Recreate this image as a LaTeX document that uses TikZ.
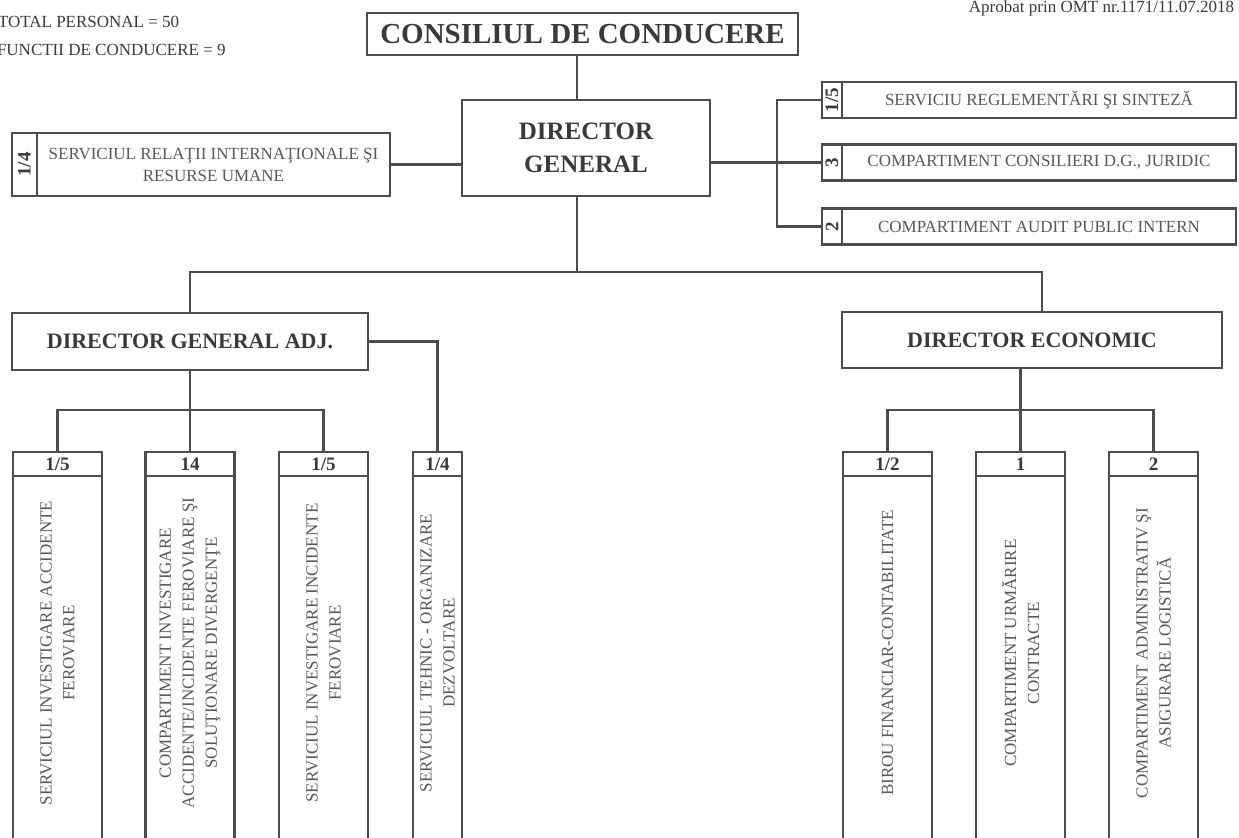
\documentclass[tikz,border=0pt]{standalone}
\usepackage{fontspec}
\usepackage{graphicx}
\setmainfont{Liberation Serif}
\definecolor{linec}{HTML}{4D4D4D}
\definecolor{textc}{HTML}{3A3A3A}
\definecolor{lightc}{HTML}{585858}
\begin{document}
\begin{tikzpicture}[x=0.5pt,y=-0.5pt,
  every node/.style={inner sep=0pt, outer sep=0pt},
  ln/.style={draw=linec, line width=1.1pt},
  box/.style={draw=linec, line width=1.1pt, fill=white, align=center},
  bigf/.style={text=textc, font=\bfseries\fontsize{14.5}{17}\selectfont},
  dgf/.style={text=textc, font=\bfseries\fontsize{12.5}{16.5}\selectfont},
  midf/.style={text=textc, font=\bfseries\fontsize{11}{13}\selectfont},
  txtf/.style={text=lightc, font=\fontsize{8.5}{11}\selectfont},
  numf/.style={text=textc, font=\bfseries\fontsize{9.5}{11}\selectfont},
  colf/.style={text=lightc, font=\fontsize{8.5}{11.5}\selectfont, align=center},
  plainf/.style={text=textc, font=\fontsize{8.5}{11}\selectfont},
  hdr/.style={box, numf, minimum height=12pt},
  body/.style={box, minimum height=184.5pt, anchor=north}
]
\useasboundingbox (0,0) rectangle (1239,837);

% header texts
\node[plainf, anchor=west] (tp) at (-2,22) {TOTAL PERSONAL = 50};
\node[plainf, anchor=west] (fc) at (-3,50) {FUNCTII DE CONDUCERE = 9};
\node[plainf, anchor=base east] (ap) at (1234,12) {Aprobat prin OMT nr.1171/11.07.2018};

% top
\node[box, bigf, minimum width=215.5pt, minimum height=21pt] (cc) at (582.5,34) {CONSILIUL DE CONDUCERE};
\node[box, dgf, minimum width=124pt, minimum height=48pt] (dg) at (586,148) {DIRECTOR\\GENERAL};

% left box
\node[box, txtf, minimum width=176.5pt, minimum height=31.5pt] (sri) at (213.5,164.5) {SERVICIUL RELAŢII INTERNAŢIONALE ŞI\\RESURSE UMANE};
\node[box, numf, minimum width=12.5pt, minimum height=31.5pt, anchor=east] (srin) at (sri.west) {\rotatebox{90}{1/4}};

% right boxes
\node[box, txtf, minimum width=197pt, minimum height=18pt] (r1) at (1039,100) {SERVICIU REGLEMENTĂRI ŞI SINTEZĂ};
\node[box, numf, minimum width=10pt, minimum height=18pt, anchor=east] (r1n) at (r1.west) {\rotatebox{90}{1/5}};
\node[box, txtf, minimum width=197pt, minimum height=18pt] (r2) at (1039,162.5) {COMPARTIMENT CONSILIERI D.G., JURIDIC};
\node[box, numf, minimum width=10pt, minimum height=18pt, anchor=east] (r2n) at (r2.west) {\rotatebox{90}{3}};
\node[box, txtf, minimum width=197pt, minimum height=18pt] (r3) at (1039,226.5) {COMPARTIMENT AUDIT PUBLIC INTERN};
\node[box, numf, minimum width=10pt, minimum height=18pt, anchor=east] (r3n) at (r3.west) {\rotatebox{90}{2}};

% second level
\node[box, midf, minimum width=178pt, minimum height=28.5pt] (dga) at (190,341.5) {DIRECTOR GENERAL ADJ.};
\node[box, midf, minimum width=190pt, minimum height=28pt] (de) at (1032,340) {DIRECTOR ECONOMIC};

% columns
\node[hdr, minimum width=44.5pt] (h1) at (57.5,464) {1/5};
\node[body, minimum width=44.5pt] (b1) at (h1.south) {};
\node[colf, rotate=90] (t1) at ([yshift=3.75pt]b1.center) {SERVICIUL INVESTIGARE ACCIDENTE\\FEROVIARE};

\node[hdr, minimum width=44.5pt] (h2) at (190,464) {14};
\node[body, minimum width=44.5pt] (b2) at (h2.south) {};
\node[colf, rotate=90] (t2) at ([yshift=3.75pt]b2.center) {COMPARTIMENT INVESTIGARE\\ACCIDENTE/INCIDENTE FEROVIARE ŞI\\SOLUŢIONARE DIVERGENŢE};

\node[hdr, minimum width=44.5pt] (h3) at (323.5,464) {1/5};
\node[body, minimum width=44.5pt] (b3) at (h3.south) {};
\node[colf, rotate=90] (t3) at ([yshift=3.75pt]b3.center) {SERVICIUL INVESTIGARE INCIDENTE\\FEROVIARE};

\node[hdr, minimum width=24.5pt] (h4) at (437.5,464) {1/4};
\node[body, minimum width=24.5pt] (b4) at (h4.south) {};
\node[colf, rotate=90] (t4) at ([yshift=3.75pt]b4.center) {SERVICIUL TEHNIC - ORGANIZARE\\DEZVOLTARE};

\node[hdr, minimum width=44.5pt] (h5) at (887.5,464) {1/2};
\node[body, minimum width=44.5pt] (b5) at (h5.south) {};
\node[colf, rotate=90] (t5) at ([yshift=3.75pt]b5.center) {BIROU FINANCIAR-CONTABILITATE};

\node[hdr, minimum width=44.5pt] (h6) at (1020.5,464) {1};
\node[body, minimum width=44.5pt] (b6) at (h6.south) {};
\node[colf, rotate=90] (t6) at ([yshift=3.75pt]b6.center) {COMPARTIMENT URMĂRIRE\\CONTRACTE};

\node[hdr, minimum width=44.5pt] (h7) at (1153.5,464) {2};
\node[body, minimum width=44.5pt] (b7) at (h7.south) {};
\node[colf, rotate=90] (t7) at ([yshift=3.75pt]b7.center) {COMPARTIMENT ADMINISTRATIV ŞI\\ASIGURARE LOGISTICĂ};

% connectors
\coordinate (j1) at (577,272);
\coordinate (jde) at (1042,272);
\coordinate (rb) at (777,0);
\coordinate (bl) at (0,410);

\draw[ln] (cc.south -| j1) -- (dg.north -| j1);
\draw[ln] (dg.south -| j1) -- (j1);
\draw[ln] (dga.north) |- (jde) -- (jde |- de.north);

\draw[ln] (sri.east) -- (sri.east -| dg.west);
\draw[ln] (r1n.west) -- (r1n.west -| rb) -- (r3n.west -| rb) -- (r3n.west);
\draw[ln] (dg.east |- r2n.west) -- (r2n.west);

\draw[ln] (h1.north) |- (bl -| h3.north) -- (h3.north);
\draw[ln] (dga.south) -- (h2.north);
\draw[ln] (dga.east) -| (h4.north);

\draw[ln] (h5.north) |- (bl -| h7.north) -- (h7.north);
\draw[ln] (de.south -| h6.north) -- (h6.north);
\end{tikzpicture}
\end{document}
